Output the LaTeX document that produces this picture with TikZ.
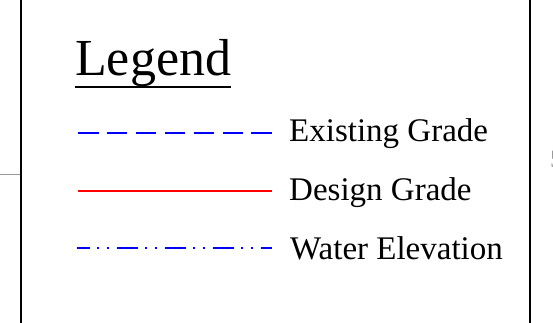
\documentclass[tikz,border=0pt]{standalone}
\usepackage{fontspec}
\setmainfont{Liberation Serif}
\usepackage{tikz}
\usetikzlibrary{positioning,calc}
\definecolor{LegBlue}{HTML}{0000FF}
\definecolor{LegRed}{HTML}{FF0000}
\definecolor{LegGrey}{HTML}{9A9A9A}

\begin{document}
\begin{tikzpicture}[x=1pt, y=1pt,
  lbl/.style={anchor=base west, inner sep=0pt, font=\fontsize{33}{40}\selectfont},
  existing/.style={LegBlue, line width=1.7pt, dash pattern=on 20.5pt off 8.4pt},
  design/.style={LegRed, line width=1.8pt},
  water/.style={LegBlue, line width=1.9pt,
    dash pattern=on 21.3pt off 7.4pt on 2pt off 7.3pt on 2pt off 8pt, dash phase=8.6pt}]
  \useasboundingbox (0,0) rectangle (553,-323);

  % frame and what shows of the sheet round it
  \draw[line width=2pt] (21,6) rectangle (530,-330);
  \coordinate (g0) at (-6,-174.3);
  \coordinate (g1) at (20,-174.3);
  \draw[LegGrey, line width=1pt] (g0) -- (g1);
  \node[anchor=base west, inner sep=0pt, text=LegGrey, font=\fontsize{25}{30}\selectfont] (five) at (550,-167) {5};

  % title
  \node[anchor=base west, inner sep=0pt, font=\fontsize{52}{60}\selectfont] (title) at (75,-76) {Legend};
  \draw[line width=2pt] ([yshift=-10.7pt]title.base west) -- ([yshift=-10.7pt]title.base east);

  % entries
  \coordinate (e0) at (78,-133.3);
  \coordinate (e1) at (272,-133.3);
  \draw[existing] (e0) -- (e1);
  \node[lbl] (eg) at (289,-141.7) {Existing Grade};

  \coordinate (d0) at (78,-191);
  \coordinate (d1) at (272,-191);
  \draw[design] (d0) -- (d1);
  \node[lbl] (dg) at (289,-200) {Design Grade};

  \coordinate (w0) at (77.3,-248.3);
  \coordinate (w1) at (272,-248.3);
  \draw[water] (w0) -- (w1);
  \node[lbl] (we) at (290,-259) {Water Elevation};
\end{tikzpicture}
\end{document}
